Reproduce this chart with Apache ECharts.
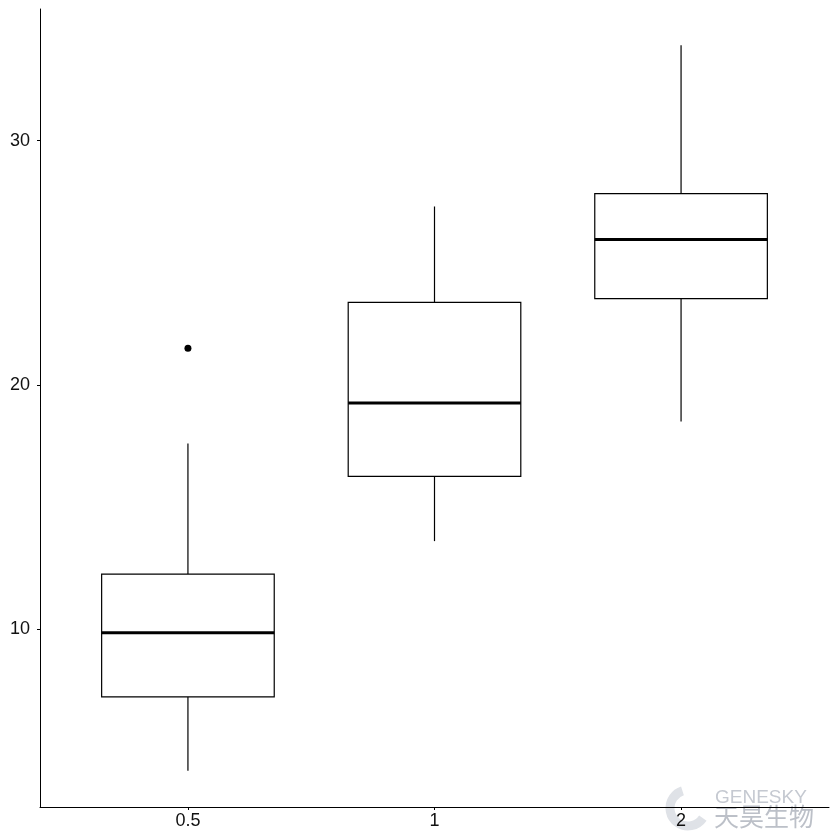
<!DOCTYPE html>
<html><head><meta charset="utf-8">
<script src="https://cdn.jsdelivr.net/npm/echarts@6/dist/echarts.min.js"></script>
<style>html,body{margin:0;padding:0;background:#fff}#c{width:840px;height:840px}</style>
</head><body><div id="c"></div>
<script>
const categories = ['0.5', '1', '2'];
// [lowerWhisker, Q1, median, Q3, upperWhisker]
const boxStats = [
  [4.2, 7.225, 9.85, 12.25, 17.6],
  [13.6, 16.25, 19.25, 23.375, 27.3],
  [18.5, 23.525, 25.95, 27.825, 33.9]
];
const outliers = [[0, 21.5]];
const yTicks = [10, 20, 30];

const chart = echarts.init(document.getElementById('c'));
const boxData = boxStats.map((s, i) => [i + 1].concat(s));
const BW = 0.7;
const FONT = 'Liberation Sans, Arial, sans-serif';
chart.setOption({
  animation: false,
  backgroundColor: '#fff',
  grid: {left: 40, right: 11, top: 9, bottom: 33, containLabel: false},
  xAxis: {
    type: 'value', min: 0.4, max: 3.6,
    splitLine: {show: false},
    axisLine: {show: true, onZero: false, lineStyle: {color: '#000', width: 1}},
    axisTick: {show: true, length: 3, customValues: categories.map((c, i) => i + 1), lineStyle: {color: '#000'}},
    axisLabel: {
      customValues: categories.map((c, i) => i + 1),
      formatter: v => categories[Math.round(v) - 1],
      color: '#111', fontSize: 18, fontFamily: FONT, margin: 5
    }
  },
  yAxis: {
    type: 'value', min: 2.715, max: 35.385,
    splitLine: {show: false},
    axisLine: {show: true, onZero: false, lineStyle: {color: '#000', width: 1}},
    axisTick: {show: true, length: 3, customValues: yTicks, lineStyle: {color: '#000'}},
    axisLabel: {
      customValues: yTicks,
      color: '#111', fontSize: 18, fontFamily: FONT, margin: 10
    }
  },
  series: [{
    type: 'custom',
    data: boxData,
    renderItem: function (params, api) {
      const x = api.value(0);
      const lo = api.coord([x, api.value(1)]);
      const q1 = api.coord([x, api.value(2)]);
      const med = api.coord([x, api.value(3)]);
      const q3 = api.coord([x, api.value(4)]);
      const hi = api.coord([x, api.value(5)]);
      const left = api.coord([x - BW / 2, 0])[0];
      const right = api.coord([x + BW / 2, 0])[0];
      const cx = lo[0];
      const ls = {stroke: '#000', lineWidth: 1.2, fill: null};
      return {
        type: 'group',
        children: [
          {type: 'line', shape: {x1: cx, y1: hi[1], x2: cx, y2: q3[1]}, style: ls},
          {type: 'line', shape: {x1: cx, y1: q1[1], x2: cx, y2: lo[1]}, style: ls},
          {type: 'rect', shape: {x: left, y: q3[1], width: right - left, height: q1[1] - q3[1]}, style: {stroke: '#000', lineWidth: 1.2, fill: '#fff'}},
          {type: 'line', shape: {x1: left, y1: med[1], x2: right, y2: med[1]}, style: {stroke: '#000', lineWidth: 3}}
        ]
      };
    }
  }, {
    type: 'scatter',
    data: outliers.map(o => [o[0] + 1, o[1]]),
    symbol: 'circle', symbolSize: 7,
    itemStyle: {color: '#000', opacity: 1}
  }],
  graphic: [
    {type: 'arc', shape: {cx: 688, cy: 808, r: 18, startAngle: 0.6, endAngle: 4.4}, style: {stroke: '#dfe2e7', lineWidth: 9, fill: null}, z: 0},
    {type: 'text', x: 715, y: 788, style: {text: 'GENESKY', fill: '#c5c9d1', font: '19px Liberation Sans, Arial, sans-serif'}},
    {type: 'text', x: 714, y: 804, style: {text: '天昊生物', fill: '#bcc0c8', font: '25px Noto Sans CJK SC, sans-serif'}}
  ]
});
</script></body></html>
